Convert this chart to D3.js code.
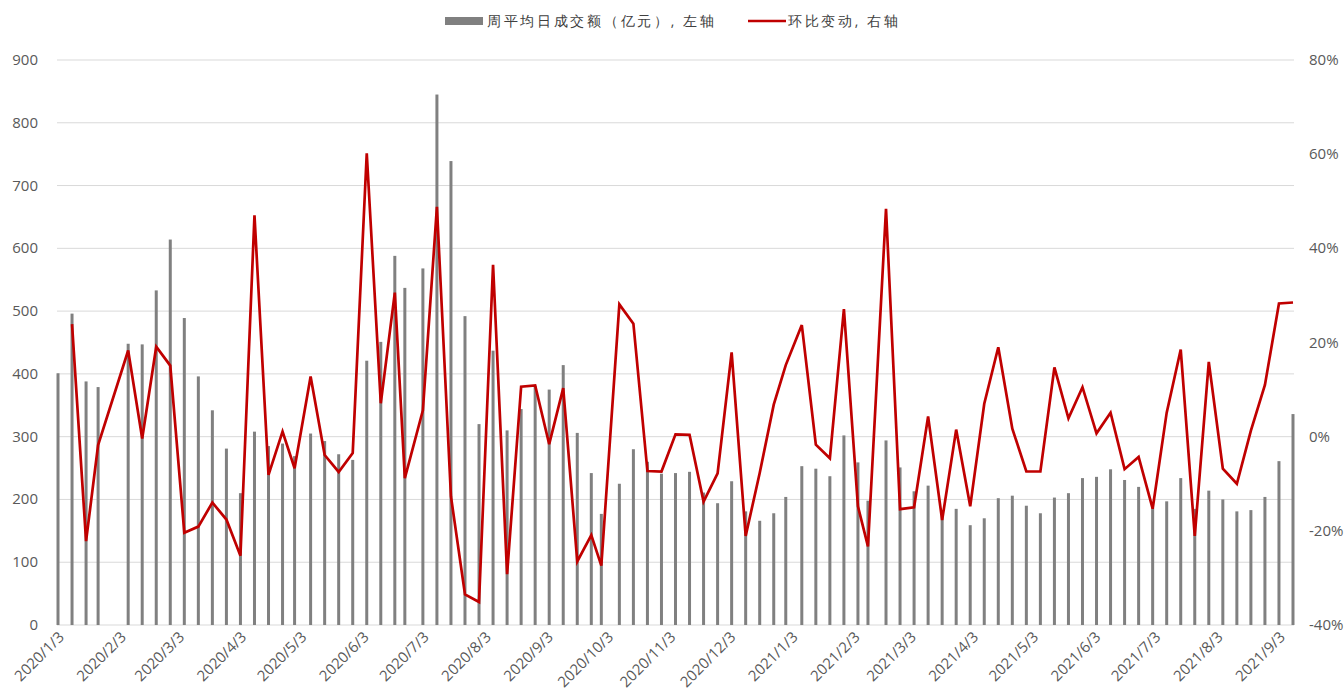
<!DOCTYPE html>
<html>
<head>
<meta charset="utf-8">
<script src="https://cdn.jsdelivr.net/npm/d3@7"></script>
<style>
  body { margin: 0; background: #fff; }
  text { font-family: "Open Sans", "Noto Sans", sans-serif; }
</style>
</head>
<body>
<div id="chart"></div>
<script>
const WIDTH = 1344;
const HEIGHT = 695;

// weekly dates
const fechas = [
  "2020-01-03","2020-01-10","2020-01-17","2020-01-23","2020-02-07","2020-02-14","2020-02-21","2020-02-28",
  "2020-03-06","2020-03-13","2020-03-20","2020-03-27","2020-04-03","2020-04-10","2020-04-17","2020-04-24",
  "2020-04-30","2020-05-08","2020-05-15","2020-05-22","2020-05-29","2020-06-05","2020-06-12","2020-06-19",
  "2020-06-24","2020-07-03","2020-07-10","2020-07-17","2020-07-24","2020-07-31","2020-08-07","2020-08-14",
  "2020-08-21","2020-08-28","2020-09-04","2020-09-11","2020-09-18","2020-09-25","2020-09-30","2020-10-09",
  "2020-10-16","2020-10-23","2020-10-30","2020-11-06","2020-11-13","2020-11-20","2020-11-27","2020-12-04",
  "2020-12-11","2020-12-18","2020-12-25","2020-12-31","2021-01-08","2021-01-15","2021-01-22","2021-01-29",
  "2021-02-05","2021-02-10","2021-02-19","2021-02-26","2021-03-05","2021-03-12","2021-03-19","2021-03-26",
  "2021-04-02","2021-04-09","2021-04-16","2021-04-23","2021-04-30","2021-05-07","2021-05-14","2021-05-21",
  "2021-05-28","2021-06-04","2021-06-11","2021-06-18","2021-06-25","2021-07-02","2021-07-09","2021-07-16",
  "2021-07-23","2021-07-30","2021-08-06","2021-08-13","2021-08-20","2021-08-27","2021-09-03","2021-09-10"
];

// 周平均日成交额（亿元）
const montos = [
  401, 496, 388, 379, 448, 447, 533, 614,
  489, 396, 342, 281, 210, 308, 285, 289,
  269, 305, 293, 272, 263, 421, 451, 588,
  537, 568, 845, 739, 492, 320, 437, 310,
  344, 381, 375, 414, 306, 242, 177, 225,
  280, 260, 241, 242, 244, 211, 194, 229,
  181, 166, 178, 204, 253, 249, 237, 302,
  259, 198, 294, 251, 213, 222, 183, 185,
  159, 170, 202, 206, 190, 178, 203, 210,
  234, 236, 248, 231, 220, 186, 197, 234,
  185, 214, 200, 181, 183, 204, 261, 336
];

// 环比变动 (%)
const variacion = [
  null, 23.9, -22.2, -1.8, 18.3, -0.4, 19.1, 15.1,
  -20.4, -19.1, -14.0, -17.6, -25.3, 47.0, -8.1, 1.1,
  -6.7, 12.8, -3.9, -7.5, -3.5, 60.2, 7.1, 30.6,
  -8.8, 5.6, 48.8, -12.7, -33.5, -35.1, 36.5, -29.2,
  10.6, 10.9, -1.6, 10.3, -26.5, -20.9, -27.4, 28.1,
  24.0, -7.3, -7.4, 0.5, 0.4, -13.8, -7.8, 17.9,
  -21.1, -7.7, 6.8, 15.2, 23.7, -1.7, -4.6, 27.1,
  -14.8, -23.3, 48.4, -15.4, -15.0, 4.3, -17.7, 1.5,
  -14.8, 7.0, 19.0, 1.7, -7.4, -7.4, 14.7, 3.9,
  10.5, 0.7, 5.1, -6.9, -4.3, -15.3, 5.1, 18.5,
  -21.1, 15.9, -6.8, -10.0, 1.3, 11.0, 28.3, 28.5
];

const ticksIzq = [0, 100, 200, 300, 400, 500, 600, 700, 800, 900];
const ticksDer = [-40, -20, 0, 20, 40, 60, 80];
const etiquetasMes = [
  "2020-01-03","2020-02-03","2020-03-03","2020-04-03","2020-05-03","2020-06-03","2020-07-03",
  "2020-08-03","2020-09-03","2020-10-03","2020-11-03","2020-12-03","2021-01-03","2021-02-03",
  "2021-03-03","2021-04-03","2021-05-03","2021-06-03","2021-07-03","2021-08-03","2021-09-03"
];

const parse = d3.timeParse("%Y-%m-%d");
const fmt = d3.timeFormat("%Y/%-m/%-d");

const datos = fechas.map((f, i) => ({ fecha: parse(f), monto: montos[i], var: variacion[i] }));

const mIzq = 57, mDer = 1294, mSup = 60, mInf = 625;
const medioDia = 12 * 3600 * 1000;

const x = d3.scaleTime()
  .domain([new Date(parse(fechas[0]).getTime() - medioDia), new Date(parse(fechas[fechas.length - 1]).getTime() + medioDia)])
  .range([mIzq, mDer]);
const yIzq = d3.scaleLinear().domain([0, 900]).range([mInf, mSup]);
const yDer = d3.scaleLinear().domain([-40, 80]).range([mInf, mSup]);

const svg = d3.select("#chart").append("svg")
  .attr("width", WIDTH)
  .attr("height", HEIGHT);

// gridlines
svg.append("g")
  .selectAll("line")
  .data(ticksIzq)
  .enter().append("line")
  .attr("x1", mIzq).attr("x2", mDer)
  .attr("y1", d => yIzq(d)).attr("y2", d => yIzq(d))
  .attr("stroke", "#d9d9d9")
  .attr("stroke-width", 1);

// left axis labels
svg.append("g")
  .selectAll("text")
  .data(ticksIzq)
  .enter().append("text")
  .attr("x", 38)
  .attr("y", d => yIzq(d) + 5)
  .attr("text-anchor", "end")
  .attr("font-size", 15)
  .attr("fill", "#595959")
  .text(d => d);

// right axis labels
svg.append("g")
  .selectAll("text")
  .data(ticksDer)
  .enter().append("text")
  .attr("x", 1309)
  .attr("y", d => yDer(d) + 5)
  .attr("text-anchor", "start")
  .attr("font-size", 15)
  .attr("fill", "#595959")
  .text(d => d + "%");

// bars
svg.append("g")
  .selectAll("rect")
  .data(datos)
  .enter().append("rect")
  .attr("x", d => x(d.fecha) - 1.5)
  .attr("width", 3)
  .attr("y", d => yIzq(d.monto))
  .attr("height", d => yIzq(0) - yIzq(d.monto))
  .attr("fill", "#808080");

// line
const linea = d3.line()
  .defined(d => d.var !== null)
  .x(d => x(d.fecha))
  .y(d => yDer(d.var));

svg.append("path")
  .datum(datos)
  .attr("d", linea)
  .attr("fill", "none")
  .attr("stroke", "#c00000")
  .attr("stroke-width", 2.7)
  .attr("stroke-linejoin", "miter");

// x labels, rotated
svg.append("g")
  .selectAll("text")
  .data(etiquetasMes)
  .enter().append("text")
  .attr("transform", d => `translate(${x(parse(d)) + 7},${mInf + 13}) rotate(-45)`)
  .attr("text-anchor", "end")
  .attr("font-size", 15)
  .attr("fill", "#595959")
  .text(d => fmt(parse(d)));

// legend
const leyenda = svg.append("g");
leyenda.append("rect")
  .attr("x", 445).attr("y", 17)
  .attr("width", 38).attr("height", 8)
  .attr("fill", "#808080");
leyenda.append("text")
  .attr("x", 487).attr("y", 26)
  .attr("font-family", "'Noto Sans CJK SC'")
  .attr("font-size", 14)
  .attr("letter-spacing", 2.7)
  .attr("fill", "#404040")
  .text("周平均日成交额（亿元）, 左轴");
leyenda.append("line")
  .attr("x1", 748).attr("x2", 786)
  .attr("y1", 21).attr("y2", 21)
  .attr("stroke", "#c00000")
  .attr("stroke-width", 2.7);
leyenda.append("text")
  .attr("x", 788).attr("y", 26)
  .attr("font-family", "'Noto Sans CJK SC'")
  .attr("font-size", 14)
  .attr("letter-spacing", 2.7)
  .attr("fill", "#404040")
  .text("环比变动, 右轴");
</script>
</body>
</html>
